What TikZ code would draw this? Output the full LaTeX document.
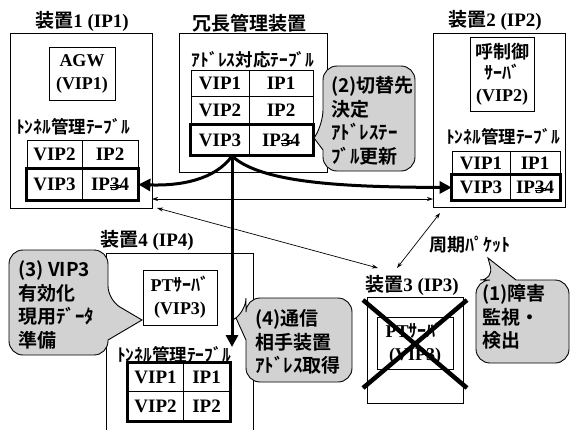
\documentclass[tikz,border=0pt]{standalone}
\usepackage{fontspec}
\setmainfont{Liberation Serif}
\newfontfamily\jp{Noto Sans CJK JP}[BoldFont={Noto Sans CJK JP Bold}]
\usetikzlibrary{arrows.meta}
\newcommand\JP[1]{{\jp #1}}
\newcommand\strk{\setbox0\hbox{3}\rlap{\raisebox{0.28ex}{\rule{1.15\wd0}{0.09ex}}}\rlap{\raisebox{0.62ex}{\rule{1.15\wd0}{0.09ex}}}3}
\tikzset{
  devbox/.style={draw, line width=0.7pt, inner sep=0pt, anchor=north west},
  inbox/.style={draw, line width=0.7pt, inner sep=0pt, align=center, font=\fontsize{18}{23}\selectfont\bfseries},
  cell/.style={draw, line width=0.7pt, inner sep=0pt, font=\fontsize{19}{22}\selectfont\bfseries},
  hrow/.style={line width=2.4pt},
  title/.style={inner sep=0pt, font=\fontsize{19}{22}\selectfont\bfseries},
  lab/.style={inner sep=0pt, font=\jp\fontsize{17.5}{20}\selectfont\bfseries},
  callout/.style={draw, line width=0.9pt, fill=gray!35, rounded corners=14pt},
  ctext/.style={inner sep=0pt, align=left, anchor=west, font=\jp\fontsize{19}{23.5}\selectfont\bfseries},
  bigarr/.style={line width=3pt, -{Triangle[length=12pt,width=12pt]}},
  thinarr/.style={line width=0.7pt, {Stealth[length=6pt,width=4pt]}-{Stealth[length=6pt,width=4pt]}},
  cross/.style={line width=4.5pt},
}
\begin{document}
\begin{tikzpicture}[x=1pt,y=-1pt]
\fill[white] (0,0) rectangle (572,429);
\useasboundingbox (0,0) rectangle (572,429);

% titles
\node[title] (t1) at (82,21) {\JP{装置}1 (IP1)};
\node[title] (tm) at (249,23) {\JP{冗長管理装置}};
\node[title] (t2) at (495,20) {\JP{装置}2 (IP2)};
\node[title] (t4) at (147,240) {\JP{装置}4 (IP4)};
\node[title] (t3) at (412,285) {\JP{装置}3 (IP3)};

% device boxes
\node[devbox, minimum width=142pt, minimum height=175pt] (dev1) at (10,33) {};
\node[devbox, minimum width=148pt, minimum height=139pt] (devm) at (179,33) {};
\node[devbox, minimum width=132pt, minimum height=174pt] (dev2) at (433,33) {};
\node[devbox, minimum width=96pt, minimum height=106pt] (dev3) at (367,297) {};
\draw[line width=0.7pt] (106,432) -- (106,253) -- (253,253) -- (253,432);

% inner server boxes
\node[inbox, minimum width=66pt, minimum height=53pt] (agw) at (82,73.5) {AGW\\(VIP1)};
\node[inbox, minimum width=64pt, minimum height=74pt, font=\fontsize{18}{21.5}\selectfont\bfseries] (cc) at (502,74) {\JP{呼制御}\\\JP{ｻｰﾊﾞ}\\(VIP2)};
\node[inbox, minimum width=74pt, minimum height=55pt] (pt4) at (180,297.5) {PT\JP{ｻｰﾊﾞ}\\(VIP3)};
\node[inbox, minimum width=76pt, minimum height=52pt] (pt3) at (415,343) {PT\JP{ｻｰﾊﾞ}\\(VIP3)};

% table labels
\node[lab] (l1) at (73,127) {ﾄﾝﾈﾙ管理ﾃｰﾌﾞﾙ};
\node[lab] (lm) at (253,60) {ｱﾄﾞﾚｽ対応ﾃｰﾌﾞﾙ};
\node[lab] (l2) at (503,137) {ﾄﾝﾈﾙ管理ﾃｰﾌﾞﾙ};
\node[lab] (l4) at (174,355) {ﾄﾝﾈﾙ管理ﾃｰﾌﾞﾙ};

% table device 1
\node[cell, minimum width=55pt, minimum height=29pt] (d1a) at (54.5,154.5) {VIP2};
\node[cell, minimum width=56pt, minimum height=29pt] (d1b) at (110,154.5) {IP2};
\node[cell, minimum width=55pt, minimum height=31pt] (d1c) at (54.5,184.5) {VIP3};
\node[cell, minimum width=56pt, minimum height=31pt] (d1d) at (110,184.5) {IP\strk4};
\draw[hrow] (d1c.north west) rectangle (d1d.south east);

% table manager
\node[cell, minimum width=58pt, minimum height=26pt] (ma) at (220,83) {VIP1};
\node[cell, minimum width=64pt, minimum height=26pt] (mb) at (281,83) {IP1};
\node[cell, minimum width=58pt, minimum height=29pt] (mc) at (220,110.5) {VIP2};
\node[cell, minimum width=64pt, minimum height=29pt] (md) at (281,110.5) {IP2};
\node[cell, minimum width=58pt, minimum height=30pt] (me) at (220,140) {VIP3};
\node[cell, minimum width=64pt, minimum height=30pt] (mf) at (281,140) {IP\strk4};
\draw[hrow] (me.north west) rectangle (mf.south east);

% table device 2
\node[cell, minimum width=58pt, minimum height=24pt] (d2a) at (481,163) {VIP1};
\node[cell, minimum width=50pt, minimum height=24pt] (d2b) at (535,163) {IP1};
\node[cell, minimum width=58pt, minimum height=25pt] (d2c) at (481,187.5) {VIP3};
\node[cell, minimum width=50pt, minimum height=25pt] (d2d) at (535,187.5) {IP\strk4};
\draw[hrow] (d2c.north west) rectangle (d2d.south east);

% table device 4
\node[cell, minimum width=55pt, minimum height=28pt] (d4a) at (155.5,377) {VIP1};
\node[cell, minimum width=47pt, minimum height=28pt] (d4b) at (206.5,377) {IP1};
\node[cell, minimum width=55pt, minimum height=30pt] (d4c) at (155.5,406) {VIP2};
\node[cell, minimum width=47pt, minimum height=30pt] (d4d) at (206.5,406) {IP2};
\draw[hrow] (d4a.north west) rectangle (d4d.south east);

% thin monitoring lines
\coordinate (h1) at (152,199);
\coordinate (h2) at (433,199);
\coordinate (s1) at (157,208);
\coordinate (e1) at (378,268);
\coordinate (s2) at (440,213);
\coordinate (e2) at (397,268);
\draw[thinarr] (h1) -- (h2);
\draw[thinarr] (s1) -- (e1);
\draw[thinarr] (s2) -- (e2);
\node[inner sep=0pt, font=\jp\fontsize{18}{20}\selectfont\bfseries] (pk) at (470,245) {周期ﾊﾟｹｯﾄ};

% thick arrows
\coordinate (o) at (232,156);
\coordinate (v4) at (232,347);
\draw[bigarr] (o) .. controls (215,180) and (180,186) .. (d1d.east);
\draw[bigarr] (o) .. controls (262,184) and (350,187) .. (d2c.west);
\draw[bigarr] (o) -- (v4);

% callouts
\draw[callout] (370,66) -- (323,66) -- (323,124) [sharp corners] -- (314,138) -- (323,150) [rounded corners=14pt] -- (323,171) -- (415,171) -- (415,66) -- cycle;
\node[ctext] (c2) at (331,121) {(2)切替先\\決定\\ｱﾄﾞﾚｽﾃｰ\\ﾌﾞﾙ更新};

\draw[callout] (60,250) -- (108,250) -- (108,300) [sharp corners] -- (142,320) -- (108,340) [rounded corners=14pt] -- (108,355) -- (9,355) -- (9,250) -- cycle;
\node[ctext] (c3) at (18,305) {(3) VIP3\\有効化\\現用ﾃﾞｰﾀ\\準備};

\draw[callout] (300,298) -- (246,298) -- (246,312) [sharp corners] -- (236,318) -- (246,340) [rounded corners=14pt] -- (246,382) -- (352,382) -- (352,298) -- cycle;
\node[ctext] (c4) at (255,342) {(4)通信\\相手装置\\ｱﾄﾞﾚｽ取得};

\draw[callout] (476,320) -- (476,280) -- (494,280) [sharp corners] -- (488,258) -- (516,280) [rounded corners=14pt] -- (569,280) -- (569,363) -- (476,363) -- cycle;
\node[ctext] (c1) at (482,317) {(1)障害\\監視・\\検出};

% failure cross
\coordinate (x1) at (363,300);
\coordinate (x2) at (467,388);
\coordinate (x3) at (467,300);
\coordinate (x4) at (363,388);
\draw[cross] (x1) -- (x2);
\draw[cross] (x3) -- (x4);
\end{tikzpicture}
\end{document}
